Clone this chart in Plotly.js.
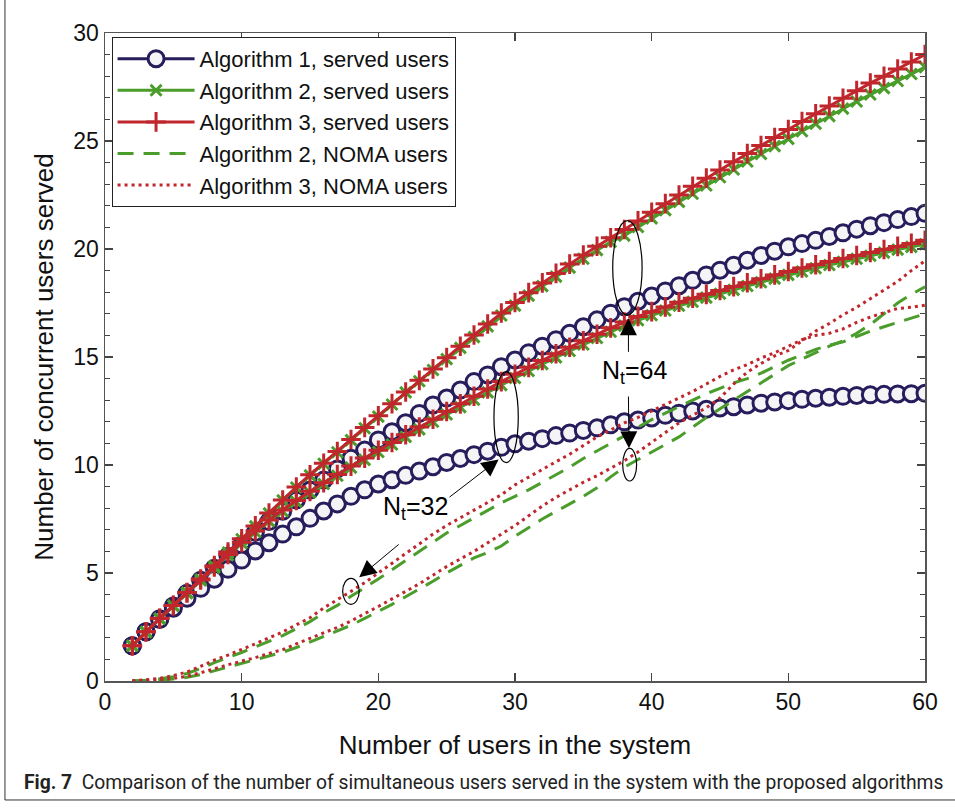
<!DOCTYPE html>
<html>
<head>
<meta charset="utf-8">
<script src="https://cdn.plot.ly/plotly-3.0.1.min.js"></script>
<style>html,body{margin:0;padding:0;background:#fff;}#chart{width:955px;height:810px;}</style>
</head>
<body>
<div id="chart"></div>
<script>
// x values: number of users in the system
const users = [2,3,4,5,6,7,8,9,10,11,12,13,14,15,16,17,18,19,20,21,22,23,24,25,26,27,28,29,30,31,32,33,34,35,36,37,38,39,40,41,42,43,44,45,46,47,48,49,50,51,52,53,54,55,56,57,58,59,60];

// ---- Nt = 64 ----
const alg1Served64 = [1.63,2.28,2.88,3.47,4.06,4.66,5.22,5.78,6.30,6.88,7.38,7.86,8.38,8.84,9.30,9.82,10.31,10.69,11.16,11.54,11.96,12.39,12.78,13.10,13.47,13.86,14.17,14.55,14.86,15.20,15.50,15.80,16.10,16.40,16.72,17.03,17.33,17.58,17.82,18.06,18.30,18.55,18.80,19.02,19.25,19.48,19.70,19.90,20.10,20.25,20.40,20.58,20.75,20.92,21.08,21.22,21.36,21.50,21.65];
const alg2Served64 = [1.63,2.27,2.89,3.49,4.09,4.70,5.32,5.95,6.56,7.16,7.76,8.36,8.96,9.52,10.06,10.59,11.15,11.70,12.24,12.80,13.36,13.88,14.40,14.90,15.42,15.92,16.42,16.92,17.38,17.84,18.28,18.72,19.14,19.55,19.95,20.33,20.62,21.02,21.42,21.80,22.18,22.56,22.94,23.32,23.68,24.05,24.40,24.76,25.10,25.45,25.80,26.15,26.50,26.83,27.15,27.45,27.78,28.10,28.42];
const alg3Served64 = [1.63,2.28,2.90,3.50,4.10,4.72,5.34,5.97,6.58,7.18,7.78,8.38,8.98,9.55,10.08,10.62,11.18,11.74,12.28,12.84,13.38,13.92,14.45,14.97,15.50,16.02,16.53,17.04,17.52,17.98,18.43,18.87,19.30,19.72,20.13,20.52,20.90,21.30,21.70,22.10,22.50,22.90,23.28,23.66,24.04,24.42,24.79,25.16,25.53,25.90,26.26,26.62,26.98,27.33,27.68,28.00,28.33,28.66,29.00];
const alg2Noma64 = [0,0.01,0.04,0.09,0.17,0.30,0.47,0.63,0.80,0.97,1.15,1.33,1.55,1.80,2.05,2.30,2.58,2.90,3.22,3.55,3.90,4.25,4.62,5.00,5.35,5.70,5.95,6.25,6.70,7.10,7.50,7.85,8.20,8.55,8.95,9.45,9.90,10.25,10.60,10.95,11.30,11.75,12.20,12.60,13.00,13.40,13.80,14.20,14.60,14.90,15.20,15.50,15.75,16.10,16.50,17.00,17.50,17.90,18.25];
const alg3Noma64 = [0,0.02,0.06,0.12,0.22,0.38,0.58,0.75,0.92,1.08,1.28,1.45,1.72,1.98,2.25,2.48,2.78,3.10,3.45,3.80,4.15,4.50,4.90,5.30,5.65,6.00,6.40,6.80,7.20,7.65,8.10,8.50,8.85,9.20,9.50,9.85,10.20,10.60,11.05,11.50,11.95,12.30,12.65,13.10,13.75,14.30,14.70,15.05,15.30,15.75,16.20,16.55,16.95,17.30,17.70,18.10,18.50,19.00,19.45];

// ---- Nt = 32 ----
const alg1Served32 = [1.63,2.28,2.85,3.37,3.83,4.29,4.71,5.17,5.60,6.02,6.40,6.80,7.14,7.53,7.87,8.20,8.55,8.85,9.12,9.32,9.52,9.72,9.92,10.12,10.30,10.48,10.64,10.82,10.98,11.10,11.22,11.36,11.48,11.60,11.72,11.86,12.00,12.08,12.18,12.30,12.40,12.50,12.58,12.64,12.70,12.78,12.86,12.92,12.98,13.04,13.09,13.14,13.18,13.22,13.25,13.27,13.29,13.30,13.32];
const alg2Served32 = [1.63,2.27,2.88,3.48,4.07,4.66,5.25,5.82,6.38,6.90,7.40,7.86,8.30,8.72,9.12,9.50,9.88,10.24,10.60,10.95,11.30,11.65,12.00,12.34,12.68,13.02,13.36,13.70,14.03,14.35,14.67,14.98,15.28,15.58,15.88,16.17,16.45,16.70,16.93,17.15,17.37,17.56,17.75,17.93,18.11,18.29,18.46,18.63,18.80,18.96,19.11,19.26,19.41,19.55,19.69,19.83,19.97,20.10,20.22];
const alg3Served32 = [1.63,2.28,2.89,3.49,4.08,4.68,5.28,5.86,6.42,6.95,7.45,7.92,8.36,8.78,9.18,9.56,9.95,10.32,10.68,11.04,11.40,11.76,12.12,12.48,12.83,13.18,13.52,13.86,14.20,14.52,14.84,15.15,15.45,15.75,16.05,16.35,16.62,16.88,17.10,17.32,17.54,17.72,17.90,18.08,18.26,18.44,18.62,18.80,18.96,19.12,19.27,19.42,19.56,19.70,19.84,19.98,20.12,20.26,20.40];
const alg2Noma32 = [0,0.03,0.10,0.20,0.35,0.58,0.85,1.08,1.32,1.58,1.85,2.10,2.42,2.75,3.15,3.50,3.92,4.30,4.72,5.15,5.58,6.02,6.45,6.85,7.20,7.55,7.90,8.25,8.55,8.85,9.20,9.55,9.90,10.30,10.65,11.00,11.35,11.75,12.10,12.40,12.70,13.00,13.30,13.55,13.80,14.00,14.25,14.55,14.85,15.10,15.35,15.55,15.70,15.95,16.20,16.40,16.60,16.80,17.00];
const alg3Noma32 = [0,0.05,0.12,0.25,0.42,0.68,0.97,1.20,1.45,1.72,2.00,2.27,2.60,2.93,3.38,3.75,4.15,4.55,5.00,5.45,5.90,6.35,6.80,7.20,7.55,7.90,8.25,8.62,9.08,9.45,9.80,10.15,10.50,10.90,11.30,11.62,11.95,12.20,12.50,12.80,13.10,13.40,13.75,14.10,14.40,14.65,14.95,15.20,15.50,15.80,16.00,16.10,16.30,16.60,16.85,17.05,17.25,17.30,17.40];

const legendNames = ["Algorithm 1, served users","Algorithm 2, served users","Algorithm 3, served users","Algorithm 2, NOMA users","Algorithm 3, NOMA users"];
const xTicks = [0,10,20,30,40,50,60];
const yTicks = [0,5,10,15,20,25,30];
const xTitle = "Number of users in the system";
const yTitle = "Number of concurrent users served";
const caption = "<b>Fig. 7</b>  Comparison of the number of simultaneous users served in the system with the proposed algorithms";

const NAVY = "#271d5c", GREEN = "#4a9d2a", RED = "#c0272d";

function circ(y, show){ return {x: users, y: y, type:"scatter", mode:"lines+markers", name: legendNames[0], showlegend: show, legendrank:1,
  line:{color:NAVY, width:3}, marker:{symbol:"circle", size:16, color:"#f4f4f6", line:{color:NAVY, width:3}}}; }
function grn(y, show){ return {x: users, y: y, type:"scatter", mode:"lines+markers", name: legendNames[1], showlegend: show, legendrank:2,
  line:{color:GREEN, width:3}, marker:{symbol:"x-thin", size:11, color:GREEN, line:{color:GREEN, width:3}}}; }
function red(y, show){ return {x: users, y: y, type:"scatter", mode:"lines+markers", name: legendNames[2], showlegend: show, legendrank:3,
  line:{color:RED, width:3}, marker:{symbol:"cross-thin", size:14, color:RED, line:{color:RED, width:3}}}; }
function gd(y, show){ return {x: users, y: y, type:"scatter", mode:"lines", name: legendNames[3], showlegend: show, legendrank:4,
  line:{color:GREEN, width:3, dash:"16px,10px"}}; }
function rd(y, show){ return {x: users, y: y, type:"scatter", mode:"lines", name: legendNames[4], showlegend: show, legendrank:5,
  line:{color:RED, width:3, dash:"3px,4px"}}; }

const data = [
  circ(alg1Served64, true), circ(alg1Served32, false),
  grn(alg2Served64, true), grn(alg2Served32, false),
  red(alg3Served64, true), red(alg3Served32, false),
  gd(alg2Noma64, true), gd(alg2Noma32, false),
  rd(alg3Noma64, true), rd(alg3Noma32, false)
];

const FONT = "Liberation Sans, Arial, sans-serif";
const axisFont = {family:FONT, size:23, color:"#111"};
const arrowStyle = {text:"", showarrow:true, arrowhead:2, arrowsize:3.4, arrowwidth:1, arrowcolor:"#000", axref:"x", ayref:"y", xref:"x", yref:"y"};
const layout = {
  width:955, height:810,
  margin:{l:105, r:30, t:33, b:129},
  paper_bgcolor:"#fff", plot_bgcolor:"#fff",
  showlegend:true,
  font:{family:FONT, color:"#111"},
  xaxis:{range:[0,60], tickvals:xTicks, ticks:"inside", ticklen:8, tickwidth:1.2, tickcolor:"#444",
    showline:true, mirror:"ticks", linecolor:"#555", linewidth:1.5, showgrid:false, zeroline:false,
    tickfont:axisFont, title:{text:xTitle, font:{family:FONT, size:26, color:"#111"}, standoff:21}},
  yaxis:{range:[0,30], tickvals:yTicks, ticks:"inside", ticklen:8, tickwidth:1.2, tickcolor:"#444",
    minor:{dtick:1, ticks:"inside", ticklen:5, tickcolor:"#444", tickwidth:1.2, showgrid:false},
    showline:true, mirror:"ticks", linecolor:"#555", linewidth:1.5, showgrid:false, zeroline:false,
    tickfont:axisFont, title:{text:yTitle, font:{family:FONT, size:26, color:"#111"}, standoff:12}},
  legend:{x:0.008, y:0.994, xanchor:"left", yanchor:"top", bgcolor:"#fff", bordercolor:"#222", borderwidth:1,
    font:{family:FONT, size:22, color:"#111"}, itemwidth:77, tracegroupgap:0, traceorder:"normal"},
  shapes:[
    {type:"circle", xref:"x", yref:"y", x0:37.15, x1:39.3, y0:16.94, y1:21.31, line:{color:"#000", width:1.2}},
    {type:"circle", xref:"x", yref:"y", x0:37.88, x1:38.9, y0:9.26, y1:10.77, line:{color:"#000", width:1.2}},
    {type:"circle", xref:"x", yref:"y", x0:28.46, x1:30.24, y0:10.11, y1:14.32, line:{color:"#000", width:1.2}},
    {type:"circle", xref:"x", yref:"y", x0:17.39, x1:18.6, y0:3.55, y1:4.75, line:{color:"#000", width:1.2}},
    {type:"rect", xref:"paper", yref:"paper", x0:-0.122, x1:1.1, y0:-0.1836, y1:1.2, line:{color:"#333", width:1}}
  ],
  annotations:[
    {xref:"x", yref:"y", x:38.75, y:14.3, text:"N<sub>t</sub>=64", showarrow:false, font:{size:25, color:"#000", family:FONT}},
    Object.assign({x:38.3, y:16.79, ax:38.3, ay:15.17}, arrowStyle),
    Object.assign({x:38.34, y:10.77, ax:38.3, ay:13.24}, arrowStyle),
    {xref:"x", yref:"y", x:22.7, y:8.0, text:"N<sub>t</sub>=32", showarrow:false, font:{size:25, color:"#000", family:FONT}},
    Object.assign({x:28.8, y:10.26, ax:25.1, ay:8.46}, arrowStyle),
    Object.assign({x:18.6, y:4.8, ax:21.6, ay:6.38}, arrowStyle),
    {xref:"paper", yref:"paper", x:-0.101, y:-0.156, xanchor:"left", yanchor:"middle", text:caption, showarrow:false,
      font:{family:"Liberation Sans Narrow, Roboto, sans-serif", size:19.3, color:"#222"}}
  ]
};

Plotly.newPlot("chart", data, layout, {displayModeBar:false, staticPlot:true});
</script>
</body>
</html>
